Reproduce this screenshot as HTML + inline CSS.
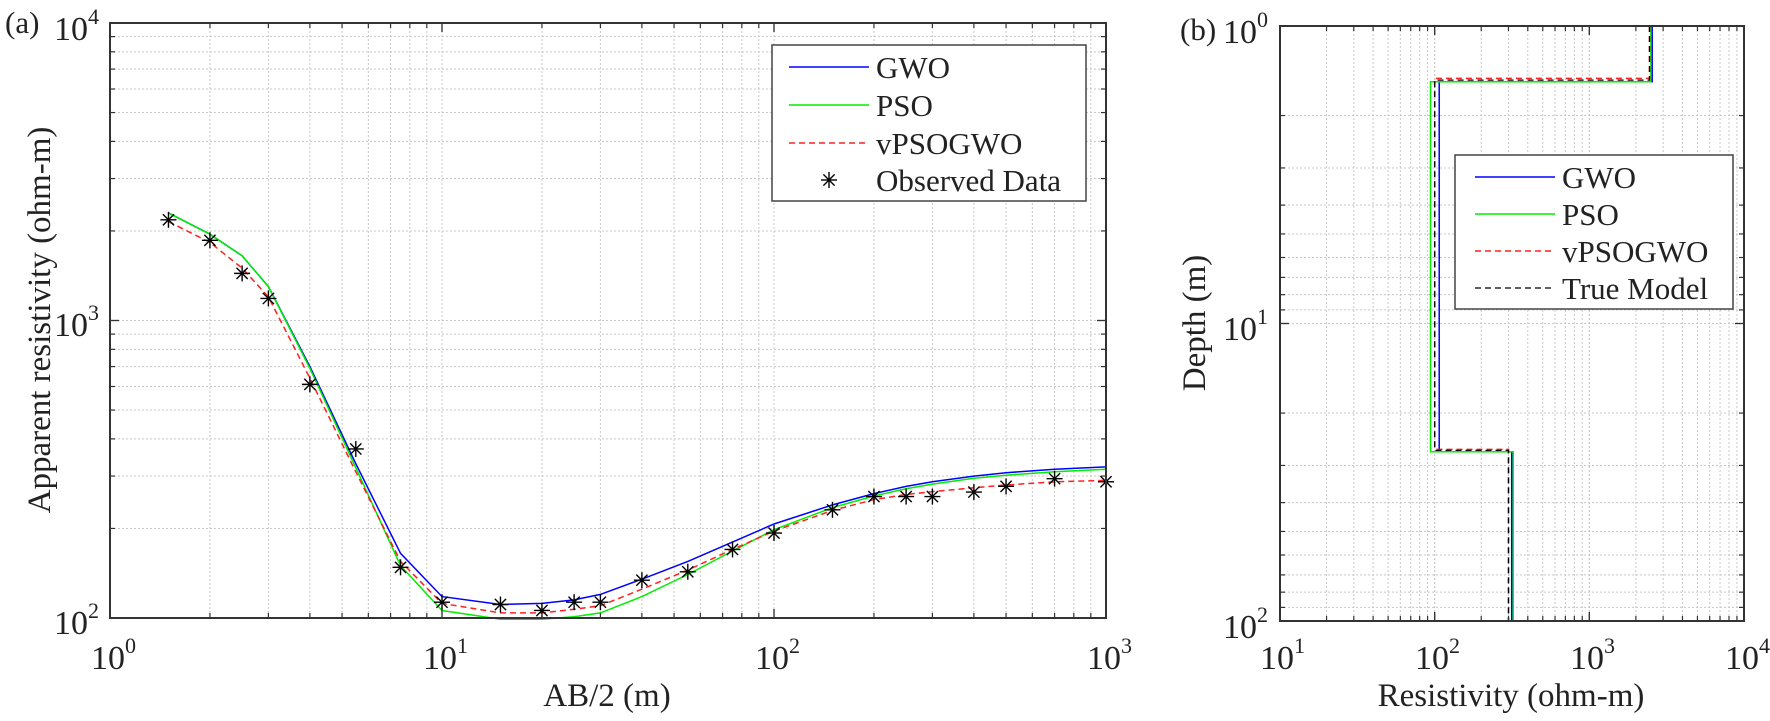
<!DOCTYPE html>
<html><head><meta charset="utf-8"><style>
html,body{margin:0;padding:0;background:#fff;}
svg{display:block;}
text{font-family:"Liberation Serif","Times New Roman","DejaVu Serif",serif;fill:#222;}
</style></head><body>
<svg id="s" width="1770" height="721" viewBox="0 0 1770 721" xmlns="http://www.w3.org/2000/svg" font-family="Liberation Serif, Times New Roman, DejaVu Serif, serif">
<rect width="1770" height="721" fill="#fff"/>
<g id="grid"></g>
<g id="data"></g>
<g id="axes"></g>
<g font-family="Liberation Serif, serif">
<!-- labels left -->
<text x="5" y="33" font-size="31">(a)</text>
<text x="54" y="40" font-size="34">10<tspan font-size="22" dy="-16">4</tspan></text>
<text x="54" y="336" font-size="34">10<tspan font-size="22" dy="-16">3</tspan></text>
<text x="54" y="634" font-size="34">10<tspan font-size="22" dy="-16">2</tspan></text>
<text x="91" y="669" font-size="34">10<tspan font-size="22" dy="-16">0</tspan></text>
<text x="423" y="669" font-size="34">10<tspan font-size="22" dy="-16">1</tspan></text>
<text x="755" y="669" font-size="34">10<tspan font-size="22" dy="-16">2</tspan></text>
<text x="1087" y="669" font-size="34">10<tspan font-size="22" dy="-16">3</tspan></text>
<text x="607" y="706" font-size="33" text-anchor="middle">AB/2 (m)</text>
<text transform="translate(50,320) rotate(-90)" font-size="33" text-anchor="middle">Apparent resistivity (ohm-m)</text>
<!-- labels right -->
<text x="1180" y="40" font-size="31">(b)</text>
<text x="1223" y="43" font-size="34">10<tspan font-size="22" dy="-16">0</tspan></text>
<text x="1223" y="340" font-size="34">10<tspan font-size="22" dy="-16">1</tspan></text>
<text x="1223" y="638" font-size="34">10<tspan font-size="22" dy="-16">2</tspan></text>
<text x="1260" y="669" font-size="34">10<tspan font-size="22" dy="-16">1</tspan></text>
<text x="1415" y="669" font-size="34">10<tspan font-size="22" dy="-16">2</tspan></text>
<text x="1570" y="669" font-size="34">10<tspan font-size="22" dy="-16">3</tspan></text>
<text x="1725" y="669" font-size="34">10<tspan font-size="22" dy="-16">4</tspan></text>
<text x="1511" y="706" font-size="33" text-anchor="middle">Resistivity (ohm-m)</text>
<text transform="translate(1205,323) rotate(-90)" font-size="33" text-anchor="middle">Depth (m)</text>
</g>
<!-- legend left -->
<rect x="772" y="45" width="314" height="156" fill="#fff" stroke="#444" stroke-width="1.5"/>
<line x1="789" y1="67" x2="869" y2="67" stroke="#0000ff" stroke-width="1.5"/>
<line x1="789" y1="105" x2="869" y2="105" stroke="#00ee00" stroke-width="1.5"/>
<line x1="789" y1="143" x2="869" y2="143" stroke="#ff2020" stroke-width="1.5" stroke-dasharray="6,4"/>
<g id="legstar"></g>
<g font-family="Liberation Serif, serif">
<text x="876" y="78" font-size="31">GWO</text>
<text x="876" y="116" font-size="31">PSO</text>
<text x="876" y="154" font-size="31">vPSOGWO</text>
<text x="876" y="191" font-size="31">Observed Data</text>
</g>
<!-- legend right -->
<rect x="1455" y="155" width="278" height="154" fill="#fff" stroke="#444" stroke-width="1.5"/>
<line x1="1475" y1="177" x2="1555" y2="177" stroke="#0000ff" stroke-width="1.5"/>
<line x1="1475" y1="214" x2="1555" y2="214" stroke="#00ee00" stroke-width="1.5"/>
<line x1="1475" y1="251" x2="1555" y2="251" stroke="#ff2020" stroke-width="1.5" stroke-dasharray="6,4"/>
<line x1="1475" y1="288" x2="1555" y2="288" stroke="#000" stroke-width="1.2" stroke-dasharray="6,4"/>
<g font-family="Liberation Serif, serif">
<text x="1562" y="188" font-size="31">GWO</text>
<text x="1562" y="225" font-size="31">PSO</text>
<text x="1562" y="262" font-size="31">vPSOGWO</text>
<text x="1562" y="299" font-size="31">True Model</text>
</g>
</svg>
<script>
var NS="http://www.w3.org/2000/svg";
function el(p,t,a){var e=document.createElementNS(NS,t);for(var k in a)e.setAttribute(k,a[k]);p.appendChild(e);return e;}
var G=document.getElementById('grid'),D=document.getElementById('data'),A=document.getElementById('axes');
var L={x0:110,x1:1106,lx0:0,lx1:3,y0:23,y1:618,ly0:4,ly1:2};
var R={x0:1280,x1:1744,lx0:1,lx1:4,y0:26,y1:621,ly0:0,ly1:2};
function X(P,v){return P.x0+(Math.log10(v)-P.lx0)/(P.lx1-P.lx0)*(P.x1-P.x0);}
function Y(P,v){return P.y0+(Math.log10(v)-P.ly0)/(P.ly1-P.ly0)*(P.y1-P.y0);}
function axes(P){
 var d0=Math.min(P.lx0,P.lx1),d1=Math.max(P.lx0,P.lx1);
 for(var d=d0;d<d1;d++)for(var m=1;m<=10;m++){var v=m*Math.pow(10,d);var x=X(P,v);
  if(x>P.x0+1&&x<P.x1-1)el(G,'line',{x1:x,y1:P.y0,x2:x,y2:P.y1,stroke:'#c8c8c8','stroke-width':1,'stroke-dasharray':'2,2'});
  var tl=(m==1||m==10)?9:5;
  el(A,'line',{x1:x,y1:P.y1,x2:x,y2:P.y1-tl,stroke:'#333','stroke-width':1.2});
  el(A,'line',{x1:x,y1:P.y0,x2:x,y2:P.y0+tl,stroke:'#333','stroke-width':1.2});}
 var e0=Math.min(P.ly0,P.ly1),e1=Math.max(P.ly0,P.ly1);
 for(var d=e0;d<e1;d++)for(var m=1;m<=10;m++){var v=m*Math.pow(10,d);var y=Y(P,v);
  if(y>P.y0+1&&y<P.y1-1)el(G,'line',{x1:P.x0,y1:y,x2:P.x1,y2:y,stroke:'#c8c8c8','stroke-width':1,'stroke-dasharray':'2,2'});
  var tl=(m==1||m==10)?9:5;
  el(A,'line',{x1:P.x0,y1:y,x2:P.x0+tl,y2:y,stroke:'#333','stroke-width':1.2});
  el(A,'line',{x1:P.x1,y1:y,x2:P.x1-tl,y2:y,stroke:'#333','stroke-width':1.2});}
 el(A,'rect',{x:P.x0,y:P.y0,width:P.x1-P.x0,height:P.y1-P.y0,fill:'none',stroke:'#333','stroke-width':2});
}
axes(L);axes(R);
var xs=[1.5,2,2.5,3,4,5.5,7.5,10,15,20,25,30,40,55,75,100,150,200,250,300,400,500,700,1000];
var gwo=[2300,1950,1650,1300,700,330,165,118,111,112,115,120,135,155,180,207,240,262,277,287,300,308,316,322];
var pso=[2300,1950,1650,1300,690,320,150,106,99,99,101,104,118,140,168,198,235,257,272,282,295,302,310,316];
var vp=[2150,1830,1500,1200,640,310,155,112,104,104,107,110,125,145,170,196,230,250,260,266,274,280,287,290];
var obs=[2180,1860,1440,1186,610,370,148,113,111,106,113,113,134,143,170,193,231,256,256,256,265,277,294,287];
function pl(P,xs,ys,c,w,da){var pts=xs.map(function(x,i){return X(P,x).toFixed(1)+','+Y(P,ys[i]).toFixed(1);}).join(' ');
 var a={points:pts,fill:'none',stroke:c,'stroke-width':w};if(da)a['stroke-dasharray']=da;el(D,'polyline',a);}
pl(L,xs,gwo,'#0000ff',1.5);pl(L,xs,pso,'#00ee00',1.5);pl(L,xs,vp,'#ff2020',1.5,'6,4');
function star(p,x,y){var r=8;
 el(p,'line',{x1:x,y1:y-r,x2:x,y2:y+r,stroke:'#000','stroke-width':1.4});
 el(p,'line',{x1:x-r,y1:y,x2:x+r,y2:y,stroke:'#000','stroke-width':1.4});
 el(p,'line',{x1:x-r*0.7,y1:y-r*0.7,x2:x+r*0.7,y2:y+r*0.7,stroke:'#000','stroke-width':1.4});
 el(p,'line',{x1:x-r*0.7,y1:y+r*0.7,x2:x+r*0.7,y2:y-r*0.7,stroke:'#000','stroke-width':1.4});}
xs.forEach(function(x,i){star(D,X(L,x),Y(L,obs[i]));});
star(document.getElementById('legstar'),829,180);
function model(r1,d1,r2,d2,r3,c,w,da){
 var p=[[r1,1],[r1,d1],[r2,d1],[r2,d2],[r3,d2],[r3,100]];
 var pts=p.map(function(q){return X(R,q[0]).toFixed(1)+','+Y(R,q[1]).toFixed(1);}).join(' ');
 var a={points:pts,fill:'none',stroke:c,'stroke-width':w};if(da)a['stroke-dasharray']=da;el(D,'polyline',a);}
model(2550,1.54,107,27,315,'#0000ff',1.5);
model(2500,1.54,94,27,322,'#00ee00',1.5);
model(2450,1.50,100,26.5,300,'#ff2020',1.5,'6,4');
model(2450,1.52,100,26.7,300,'#000',1.3,'6,4');
</script>
</body></html>
